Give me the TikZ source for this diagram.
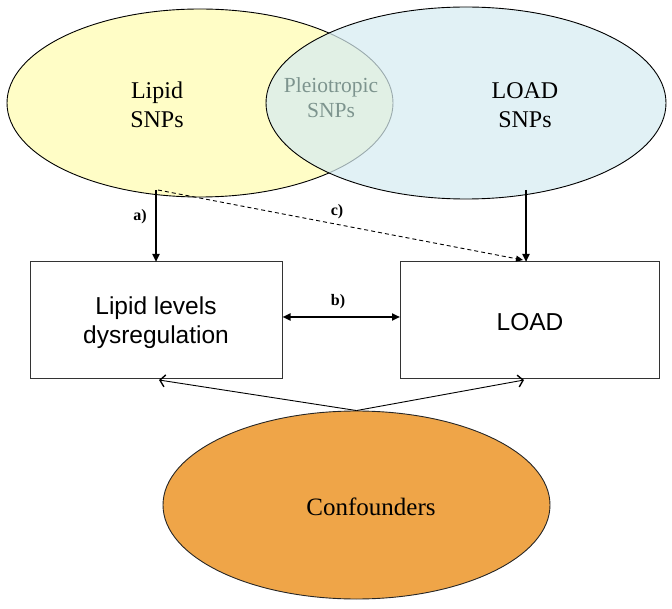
\documentclass[tikz,border=0pt]{standalone}
\usepackage{fontspec}
\setmainfont{Liberation Serif}
\newfontfamily\arialf{Liberation Sans}
\usetikzlibrary{shapes.geometric,arrows.meta,calc}
\definecolor{ylw}{RGB}{255,253,198}
\definecolor{blu}{RGB}{214,236,241}
\definecolor{org}{RGB}{239,165,72}
\definecolor{pleio}{RGB}{125,148,142}
\begin{document}
\begin{tikzpicture}[x=1pt,y=-1pt,
  venn/.style={ellipse, draw=black, line width=0.9pt, inner sep=0pt},
  boxn/.style={draw=black!80, line width=1pt, minimum height=117pt, inner sep=0pt},
  serift/.style={font=\fontsize{24}{29}\selectfont, anchor=base},
  pleiot/.style={font=\fontsize{21.5}{25}\selectfont, anchor=base, text=pleio},
  sanst/.style={font=\arialf\fontsize{24.5}{29}\selectfont, anchor=base},
  lbl/.style={font=\bfseries\fontsize{16}{19}\selectfont},
  thickarr/.style={line width=2pt, -{Triangle[length=8pt,width=7pt]}},
  thinarr/.style={line width=0.9pt, -{Straight Barb[length=5pt,width=12pt,line width=1.4pt]}}
]
\useasboundingbox (0,0) rectangle (672,609);
% ellipses
\node[venn, fill=ylw, minimum width=386pt, minimum height=188pt] (lipell) at (200,103) {};
\node[venn, fill=blu, fill opacity=0.72, minimum width=400pt, minimum height=192pt] (loadell) at (466,103) {};
\node[venn, fill=org, draw=black!85, minimum width=387pt, minimum height=188pt] (conf) at (356.5,505) {};
% ellipse texts
\node[serift] (lt1) at (157,99) {Lipid};
\node[serift] (lt2) at (157,128) {SNPs};
\node[pleiot] (pt1) at (331,93) {Pleiotropic};
\node[pleiot] (pt2) at (331,118) {SNPs};
\node[serift] (ot1) at (525,99) {LOAD};
\node[serift] (ot2) at (525,128) {SNPs};
\node[serift, font=\fontsize{25}{30}\selectfont] (ct) at (371,515) {Confounders};
% boxes
\node[boxn, minimum width=252pt] (lipbox) at (156,320.5) {};
\node[boxn, minimum width=259pt] (loadbox) at (529.5,320.5) {};
\node[sanst] (bt1) at (156,315) {Lipid levels};
\node[sanst] (bt2) at (156,344) {dysregulation};
\node[sanst] (bt3) at (530,331) {LOAD};
% connector end points
\coordinate (aS) at (156,190);
\coordinate (aE) at (156,262);
\coordinate (rS) at (526,190);
\coordinate (rE) at (526,262);
\coordinate (cS) at (158,190);
\coordinate (cE) at (523,260);
\coordinate (bS) at (282.5,317);
\coordinate (bE) at (400,317);
\coordinate (lE) at (159,380);
\coordinate (oE) at (524,380);
% connectors
\draw[thickarr] (aS) -- (aE);
\draw[thickarr] (rS) -- (rE);
\draw[line width=0.9pt, dash pattern=on 4pt off 3pt, -{Triangle[length=7pt,width=6pt]}] (cS) -- (cE);
\draw[line width=2.4pt, {Triangle[length=8pt,width=7pt]}-{Triangle[length=8pt,width=7pt]}] (bS) -- (bE);
\draw[thinarr] (conf.north) -- (lE);
\draw[thinarr] (conf.north) -- (oE);
% labels
\node[lbl] (la) at (140,217) {a)};
\node[lbl] (lc) at (337,212) {c)};
\node[lbl] (lb) at (338,302) {b)};
\end{tikzpicture}
\end{document}
